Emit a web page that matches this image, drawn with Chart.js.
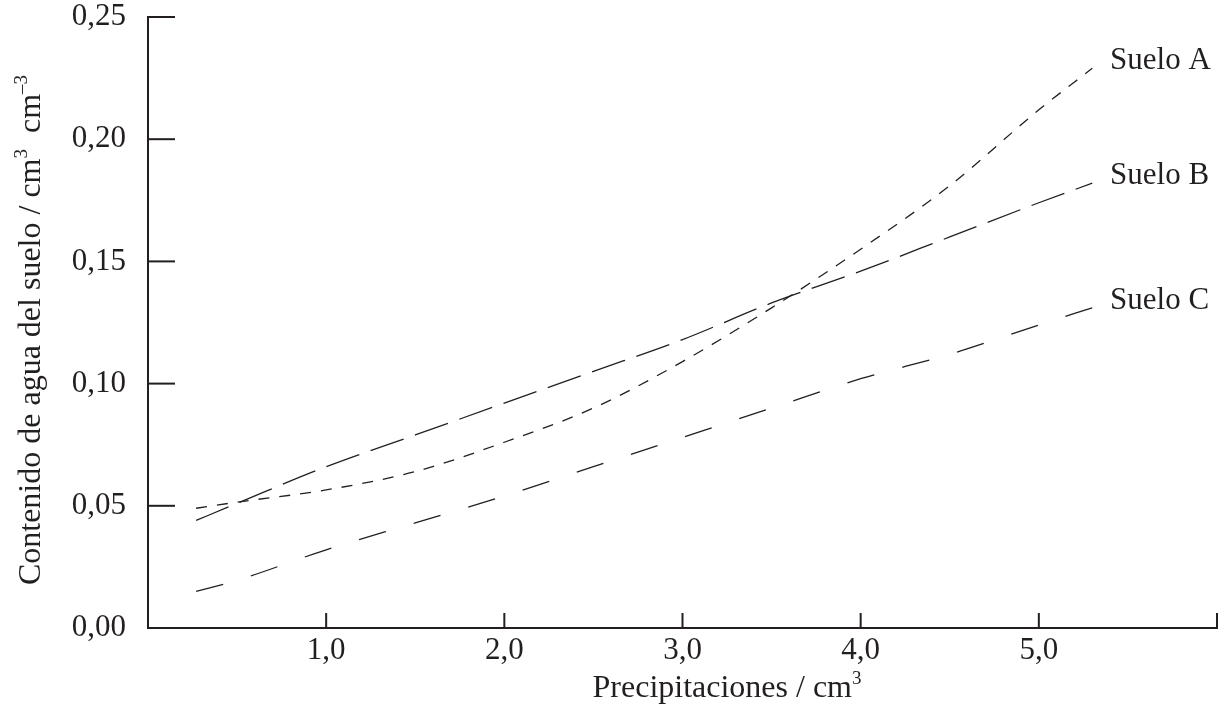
<!DOCTYPE html>
<html>
<head>
<meta charset="utf-8">
<title>Contenido de agua del suelo</title>
<script src="https://cdn.jsdelivr.net/npm/chart.js@4.4.1/dist/chart.umd.min.js"></script>
<style>
  html, body { margin: 0; padding: 0; background: #fff; }
  #wrap { width: 1223px; height: 707px; }
</style>
</head>
<body>
<div id="wrap"><canvas id="soilChart"></canvas></div>
<script>
// values
const precip = [0.27, 0.5, 1.0, 1.5, 2.0, 2.5, 3.0, 3.5, 4.0, 4.5, 5.0, 5.3];
const sueloA = [0.049, 0.0515, 0.0565, 0.064, 0.076, 0.090, 0.109, 0.131, 0.155, 0.181, 0.212, 0.229];
const sueloB = [0.044, 0.051, 0.066, 0.079, 0.092, 0.105, 0.118, 0.133, 0.146, 0.160, 0.174, 0.182];
const sueloC = [0.015, 0.0195, 0.032, 0.043, 0.054, 0.066, 0.078, 0.090, 0.102, 0.112, 0.124, 0.131];
const seriesNames = ["Suelo A", "Suelo B", "Suelo C"];
const xTickLabels = ["", "1,0", "2,0", "3,0", "4,0", "5,0", ""];
const yTickLabels = ["0,00", "0,05", "0,10", "0,15", "0,20", "0,25"];

const INK = "#231f20";
const FONT = "Liberation Serif";

function toPoints(ys) {
  return ys.map((y, i) => ({ x: precip[i], y: y }));
}

// text with superscript pieces, centred on (cx, baseline)
function drawRich(ctx, parts, cx, cy) {
  const big = "32px '" + FONT + "'";
  const small = "19px '" + FONT + "'";
  let total = 0;
  parts.forEach(p => {
    ctx.font = p.sup ? small : big;
    p.w = ctx.measureText(p.t).width;
    total += p.w;
  });
  let x = cx - total / 2;
  ctx.textAlign = "left";
  ctx.textBaseline = "alphabetic";
  parts.forEach(p => {
    ctx.font = p.sup ? small : big;
    ctx.fillText(p.t, x, p.sup ? cy - 13 : cy);
    x += p.w;
  });
}

const decorPlugin = {
  id: "decor",
  afterDraw(chart) {
    const { ctx, chartArea } = chart;
    const xs = chart.scales.x;
    const ys = chart.scales.y;
    ctx.save();
    ctx.strokeStyle = INK;
    ctx.lineWidth = 2;

    // inward tick marks
    xs.ticks.forEach(t => {
      if (t.value === 0) return;
      const px = xs.getPixelForValue(t.value);
      ctx.beginPath();
      ctx.moveTo(px, chartArea.bottom);
      ctx.lineTo(px, chartArea.bottom - 15);
      ctx.stroke();
    });
    ys.ticks.forEach(t => {
      if (t.value === 0) return;
      const py = ys.getPixelForValue(t.value);
      ctx.beginPath();
      ctx.moveTo(chartArea.left, py);
      ctx.lineTo(chartArea.left + 27, py);
      ctx.stroke();
    });

    // series labels at the end of each curve
    ctx.fillStyle = INK;
    ctx.font = "31px '" + FONT + "'";
    ctx.textAlign = "left";
    ctx.textBaseline = "middle";
    chart.data.datasets.forEach((ds, i) => {
      const pts = chart.getDatasetMeta(i).data;
      const last = pts[pts.length - 1];
      ctx.fillText(seriesNames[i], xs.getPixelForValue(5.4), last.y - 7);
    });

    // axis titles
    drawRich(ctx, [
      { t: "Precipitaciones / cm" }, { t: "3", sup: true }
    ], 727, 697);

    ctx.translate(40, 330);
    ctx.rotate(-Math.PI / 2);
    drawRich(ctx, [
      { t: "Contenido de agua del suelo / cm" }, { t: "3", sup: true },
      { t: "  cm" }, { t: "–3", sup: true }
    ], 0, 0);
    ctx.restore();
  }
};

const ctx = document.getElementById("soilChart").getContext("2d");
new Chart(ctx, {
  type: "line",
  data: {
    datasets: [
      {
        label: seriesNames[0],
        data: toPoints(sueloA),
        borderColor: INK,
        borderWidth: 1.3,
        borderDash: [11, 10],
        pointRadius: 0,
        cubicInterpolationMode: "monotone",
        fill: false
      },
      {
        label: seriesNames[1],
        data: toPoints(sueloB),
        borderColor: INK,
        borderWidth: 1.3,
        borderDash: [35, 12],
        pointRadius: 0,
        cubicInterpolationMode: "monotone",
        fill: false
      },
      {
        label: seriesNames[2],
        data: toPoints(sueloC),
        borderColor: INK,
        borderWidth: 1.3,
        borderDash: [28, 29],
        pointRadius: 0,
        cubicInterpolationMode: "monotone",
        fill: false
      }
    ]
  },
  options: {
    responsive: true,
    maintainAspectRatio: false,
    animation: false,
    layout: { padding: { top: 17, right: 6, left: 0, bottom: 0 } },
    plugins: {
      legend: { display: false },
      tooltip: { enabled: false }
    },
    scales: {
      x: {
        type: "linear",
        min: 0,
        max: 6,
        grid: { display: false },
        border: { display: true, color: INK, width: 2 },
        ticks: {
          stepSize: 1,
          padding: -4,
          color: INK,
          font: { family: FONT, size: 31 },
          maxRotation: 0,
          callback: (v) => xTickLabels[Math.round(v)] ?? ""
        },
        afterFit: (scale) => {
          scale.height = 79;
          scale.paddingLeft = 0;
          scale.paddingRight = 0;
        }
      },
      y: {
        min: 0,
        max: 0.25,
        grid: { display: false },
        border: { display: true, color: INK, width: 2 },
        ticks: {
          stepSize: 0.05,
          padding: 14,
          color: INK,
          font: { family: FONT, size: 31 },
          callback: (v) => yTickLabels[Math.round(v / 0.05)] ?? ""
        },
        afterFit: (scale) => {
          scale.width = 148;
          scale.paddingTop = 0;
          scale.paddingBottom = 0;
        }
      }
    }
  },
  plugins: [decorPlugin]
});
</script>
</body>
</html>
